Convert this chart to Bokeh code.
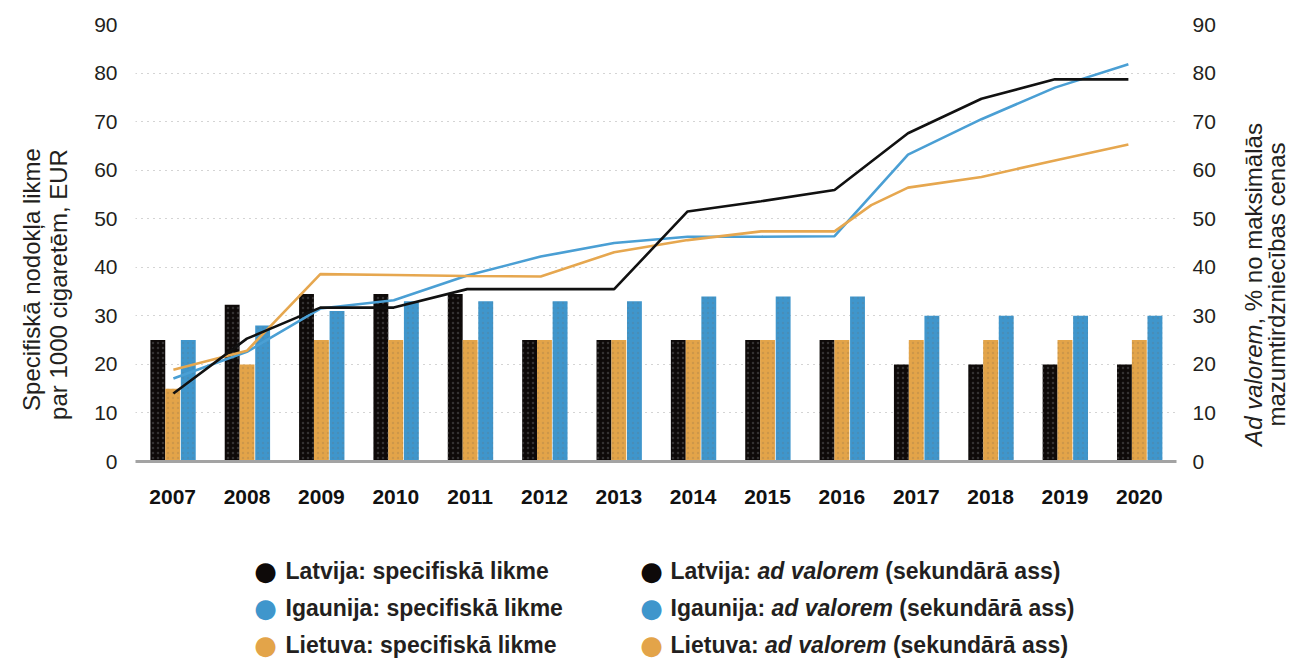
import math
from bokeh.plotting import figure
from bokeh.layouts import column, row
from bokeh.models import (Range1d, LinearAxis, FixedTicker, Label, ColumnDataSource)
from bokeh.transform import dodge
from bokeh.embed import file_html
from bokeh.resources import INLINE

# ---------------- data ----------------
years = ["2007", "2008", "2009", "2010", "2011", "2012", "2013",
         "2014", "2015", "2016", "2017", "2018", "2019", "2020"]
year_num = [2007, 2008, 2009, 2010, 2011, 2012, 2013,
            2014, 2015, 2016, 2017, 2018, 2019, 2020]
y_ticks = [0, 10, 20, 30, 40, 50, 60, 70, 80, 90]

# specific rate, EUR per 1000 cigarettes (lines, primary axis)
lv_specific = [14.0, 25.3, 31.7, 31.7, 35.5, 35.5, 35.5,
               51.5, 53.6, 55.9, 67.6, 74.7, 78.7, 78.7]
ee_specific = [17.1, 22.6, 31.5, 33.2, 38.3, 42.2, 45.0,
               46.3, 46.3, 46.4, 63.2, 70.5, 77.0, 81.8]
lt_line_years = [2007, 2008, 2009, 2010, 2011, 2012, 2013,
                 2014, 2015, 2016, 2016.5, 2017, 2018, 2019, 2020]
lt_specific = [18.9, 22.8, 38.6, 38.4, 38.2, 38.1, 43.1,
               45.6, 47.4, 47.4, 52.8, 56.4, 58.6, 62.0, 65.3]

# ad valorem, % of max retail price (bars, secondary axis)
lv_adval = [25, 32.3, 34.5, 34.5, 34.5, 25, 25, 25, 25, 25, 20, 20, 20, 20]
lt_adval = [15, 20, 25, 25, 25, 25, 25, 25, 25, 25, 25, 25, 25, 25]
ee_adval = [25, 28, 31, 33, 33, 33, 33, 34, 34, 34, 30, 30, 30, 30]

countries = ["Latvija", "Igaunija", "Lietuva"]

# ---------------- style ----------------
C_LV = "#0e0a09"
C_EE = "#3f96cc"
C_LT = "#e3a449"
L_LV = "#111111"
L_EE = "#4a9fd4"
L_LT = "#e6a74f"
TXT = "#231f20"
FONT = "Liberation Sans"

TOTAL_W, TOTAL_H = 1313, 659
TOP_H = 520
LEFT_W = 85
RIGHT_X = 1240
FL, FR, FT, FB = 135, 1176, 24, 461   # frame edges on the page

p = figure(width=RIGHT_X - LEFT_W, height=TOP_H, output_backend="svg",
           toolbar_location=None,
           x_range=Range1d(2006.5, 2020.5), y_range=Range1d(0, 90),
           min_border_left=FL - LEFT_W, min_border_right=RIGHT_X - FR,
           min_border_top=FT, min_border_bottom=TOP_H - FB)
p.outline_line_color = None
p.extra_y_ranges = {"right": Range1d(0, 90)}
p.extra_x_ranges = {"lines": Range1d(2006.484, 2020.655)}

src = ColumnDataSource(dict(x=year_num, lv=lv_adval, lt=lt_adval, ee=ee_adval))
bar_kw = dict(width=0.2, source=src, y_range_name="right", line_color=None,
              hatch_pattern="dot", hatch_scale=5, hatch_weight=1)
p.vbar(x=dodge("x", -0.2), top="lv", fill_color=C_LV,
       hatch_color="#5a5a5a", hatch_alpha=0.5, **bar_kw)
p.vbar(x=dodge("x", 0.0), top="lt", fill_color=C_LT,
       hatch_color="#9a7a4a", hatch_alpha=0.3, **bar_kw)
p.vbar(x=dodge("x", 0.21), top="ee", fill_color=C_EE,
       hatch_color="#5a7a90", hatch_alpha=0.3, **bar_kw)

p.line(year_num, ee_specific, x_range_name="lines", line_color=L_EE, line_width=2.6)
p.line(lt_line_years, lt_specific, x_range_name="lines", line_color=L_LT, line_width=2.6)
p.line(year_num, lv_specific, x_range_name="lines", line_color=L_LV, line_width=2.6)

# grid
p.xgrid.grid_line_color = None
p.ygrid.ticker = FixedTicker(ticks=y_ticks)
p.ygrid.grid_line_color = "#a8a8a8"
p.ygrid.grid_line_dash = "1 5"
p.ygrid.grid_line_width = 1

# x axis
xa = p.xaxis[0]
xa.ticker = FixedTicker(ticks=year_num)
xa.major_label_overrides = {y: s for y, s in zip(year_num, years)}
xa.axis_line_color = "#a3a3a3"
xa.axis_line_width = 3
xa.major_tick_line_color = None
xa.minor_tick_line_color = None
xa.major_label_text_font = FONT
xa.major_label_text_font_style = "bold"
xa.major_label_text_font_size = "21px"
xa.major_label_text_color = "#111111"
xa.major_label_standoff = 22

# left axis
ya = p.yaxis[0]
ya.ticker = FixedTicker(ticks=y_ticks)
ya.axis_line_color = None
ya.major_tick_line_color = None
ya.minor_tick_line_color = None
ya.major_label_text_font = FONT
ya.major_label_text_font_size = "21px"
ya.major_label_text_color = TXT
ya.major_label_standoff = 12

# right axis
ra = LinearAxis(y_range_name="right", ticker=FixedTicker(ticks=y_ticks))
ra.axis_line_color = None
ra.major_tick_line_color = None
ra.minor_tick_line_color = None
ra.major_label_text_font = FONT
ra.major_label_text_font_size = "21px"
ra.major_label_text_color = TXT
ra.major_label_standoff = 10
p.add_layout(ra, "right")


def blank(w, h, top=0, bottom=0):
    f = figure(width=w, height=h, output_backend="svg", toolbar_location=None,
               x_range=Range1d(0, 1), y_range=Range1d(0, 1),
               x_axis_location=None, y_axis_location=None, min_border=0,
               min_border_top=top, min_border_bottom=bottom)
    f.outline_line_color = None
    f.xgrid.visible = False
    f.ygrid.visible = False
    return f


# Arial/Liberation advance widths (per 1000 em)
BOLD_W = {"L": 611, "a": 556, "t": 333, "v": 556, "i": 278, "j": 278, ":": 333,
          " ": 278, "I": 278, "g": 611, "u": 611, "n": 611, "e": 556, "d": 611,
          "l": 278, "o": 611, "r": 389, "m": 889}
REG_W = {"A": 667, "d": 556, " ": 278, "v": 500, "a": 556, "l": 222, "o": 556,
         "r": 333, "e": 556, "m": 833, ",": 278, "%": 889, "n": 556, "k": 500,
         "s": 500, "i": 222, "ā": 556}


def tw(s, size, table):
    return sum(table[c] for c in s) * size / 1000.0


AS = 24  # axis title size
rot_kw = dict(x_units="screen", y_units="screen", angle=math.pi / 2,
              text_font=FONT, text_font_size=f"{AS}px", text_color=TXT,
              text_baseline="middle")

# ---------------- left axis title ----------------
lt_fig = blank(LEFT_W, TOP_H, top=FT, bottom=TOP_H - FB)
lt_fig.add_layout(Label(x=31, y=FB - 279, text="Specifiskā nodokļa likme",
                        text_align="center", **rot_kw))
lt_fig.add_layout(Label(x=58, y=FB - 284, text="par 1000 cigaretēm, EUR",
                        text_align="center", **rot_kw))

# ---------------- right axis title (mixed italic) ----------------
rf = blank(TOTAL_W - RIGHT_X, TOP_H, top=FT, bottom=TOP_H - FB)
part1 = "Ad valorem"
part2 = ", % no maksimālās"
line2 = "mazumtirdzniecības cenas"
cy = FB - 284
start1 = cy - tw(part1 + part2, AS, REG_W) / 2
rf.add_layout(Label(x=1253 - RIGHT_X, y=start1, text=part1, text_align="left",
                    text_font_style="italic", **rot_kw))
rf.add_layout(Label(x=1253 - RIGHT_X, y=start1 + tw(part1, AS, REG_W), text=part2,
                    text_align="left", **rot_kw))
rf.add_layout(Label(x=1276 - RIGHT_X, y=cy, text=line2, text_align="center", **rot_kw))

# ---------------- legend ----------------
lf = blank(TOTAL_W, TOTAL_H - TOP_H)
LS = 23
row_y = [570, 607, 644]
mark_colors = [C_LV, C_EE, C_LT]
leg_kw = dict(x_units="screen", y_units="screen", text_font=FONT,
              text_font_size=f"{LS}px", text_color=TXT, text_baseline="middle",
              text_font_style="bold")
for c, col, ry in zip(countries, mark_colors, row_y):
    yy = TOTAL_H - ry
    for mx in (265, 651):
        lf.add_layout(Label(x=mx, y=yy, text="●", text_align="center",
                            text_baseline="middle", text_color=col,
                            text_font="DejaVu Sans", text_font_size="26px",
                            x_units="screen", y_units="screen"))
    lf.add_layout(Label(x=285, y=yy, text=f"{c}: specifiskā likme",
                        text_align="left", **leg_kw))
    pre = f"{c}: "
    lf.add_layout(Label(x=670, y=yy, text=pre, text_align="left", **leg_kw))
    x_it = 670 + tw(pre, LS, BOLD_W)
    kw_it = dict(leg_kw)
    kw_it["text_font_style"] = "bold italic"
    lf.add_layout(Label(x=x_it, y=yy, text="ad valorem", text_align="left", **kw_it))
    x_rest = x_it + tw("ad valorem ", LS, BOLD_W)
    lf.add_layout(Label(x=x_rest, y=yy, text="(sekundārā ass)",
                        text_align="left", **leg_kw))

layout = column(row(lt_fig, p, rf, spacing=0), lf, spacing=0)
open("out.html", "w").write(file_html(layout, INLINE))
